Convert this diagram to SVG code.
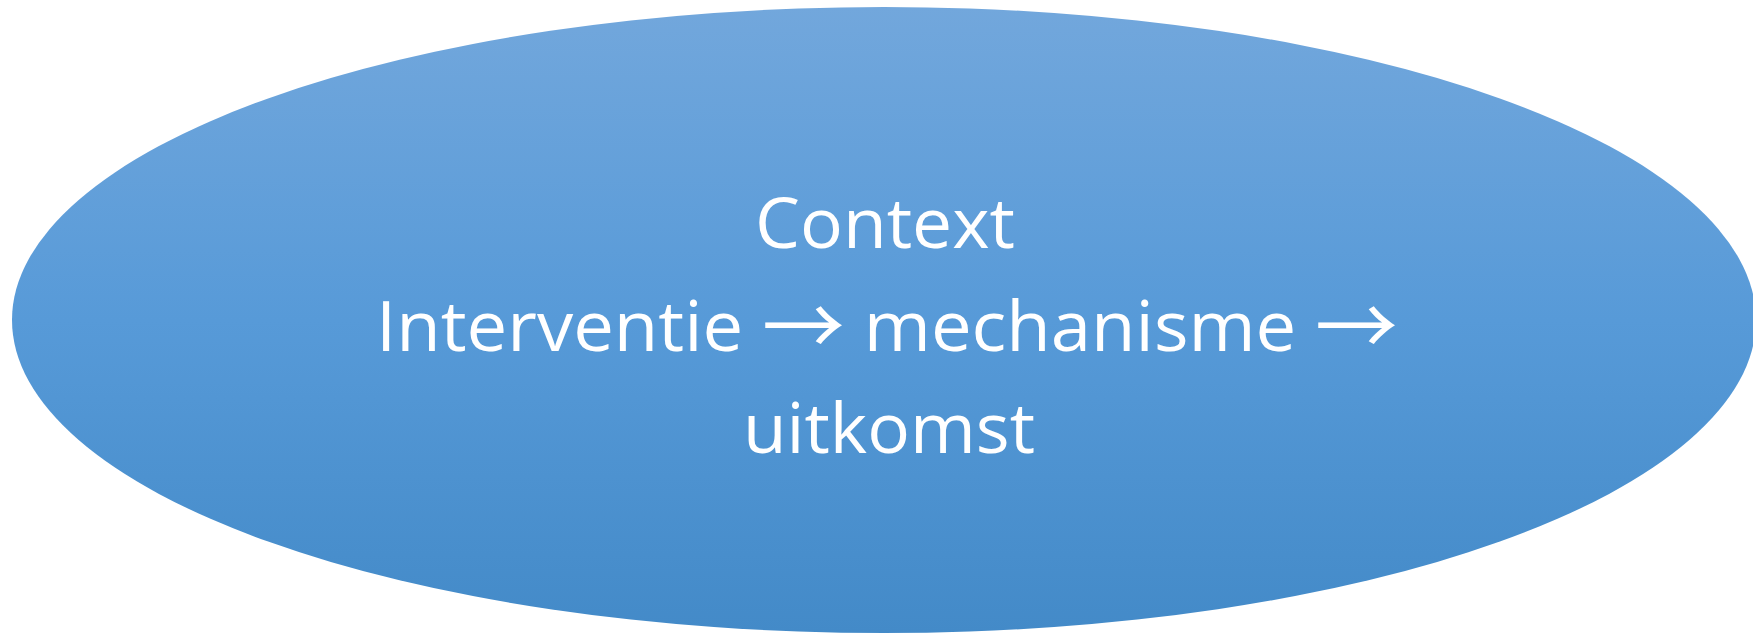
<svg xmlns="http://www.w3.org/2000/svg" width="1753" height="636" viewBox="0 0 1753 636">
  <defs>
    <linearGradient id="fill" x1="0" y1="0" x2="0" y2="1">
      <stop offset="0" stop-color="#72a7dc"/>
      <stop offset="0.5" stop-color="#579ad8"/>
      <stop offset="1" stop-color="#438ac8"/>
    </linearGradient>
    <style>
      .lbl { font-family: "Open Sans", "Liberation Sans", sans-serif; font-size: 70px; fill: #ffffff; }
      .arr { font-family: "Noto Sans CJK SC", "DejaVu Sans", sans-serif; font-size: 80px; }
    </style>
  </defs>
  <rect width="1753" height="636" fill="#ffffff"/>
  <g id="context-node">
    <ellipse cx="884" cy="320" rx="872" ry="313" fill="url(#fill)"/>
    <text class="lbl" x="755" y="248" textLength="260" lengthAdjust="spacingAndGlyphs">Context</text>
    <text class="lbl" x="376" y="351" textLength="1022" lengthAdjust="spacingAndGlyphs">Interventie <tspan class="arr" dy="4">→</tspan><tspan dy="-4"> mechanisme </tspan><tspan class="arr" dy="4">→</tspan></text>
    <text class="lbl" x="743" y="453" textLength="292" lengthAdjust="spacingAndGlyphs">uitkomst</text>
  </g>
  <g id="connectors"/>
</svg>
